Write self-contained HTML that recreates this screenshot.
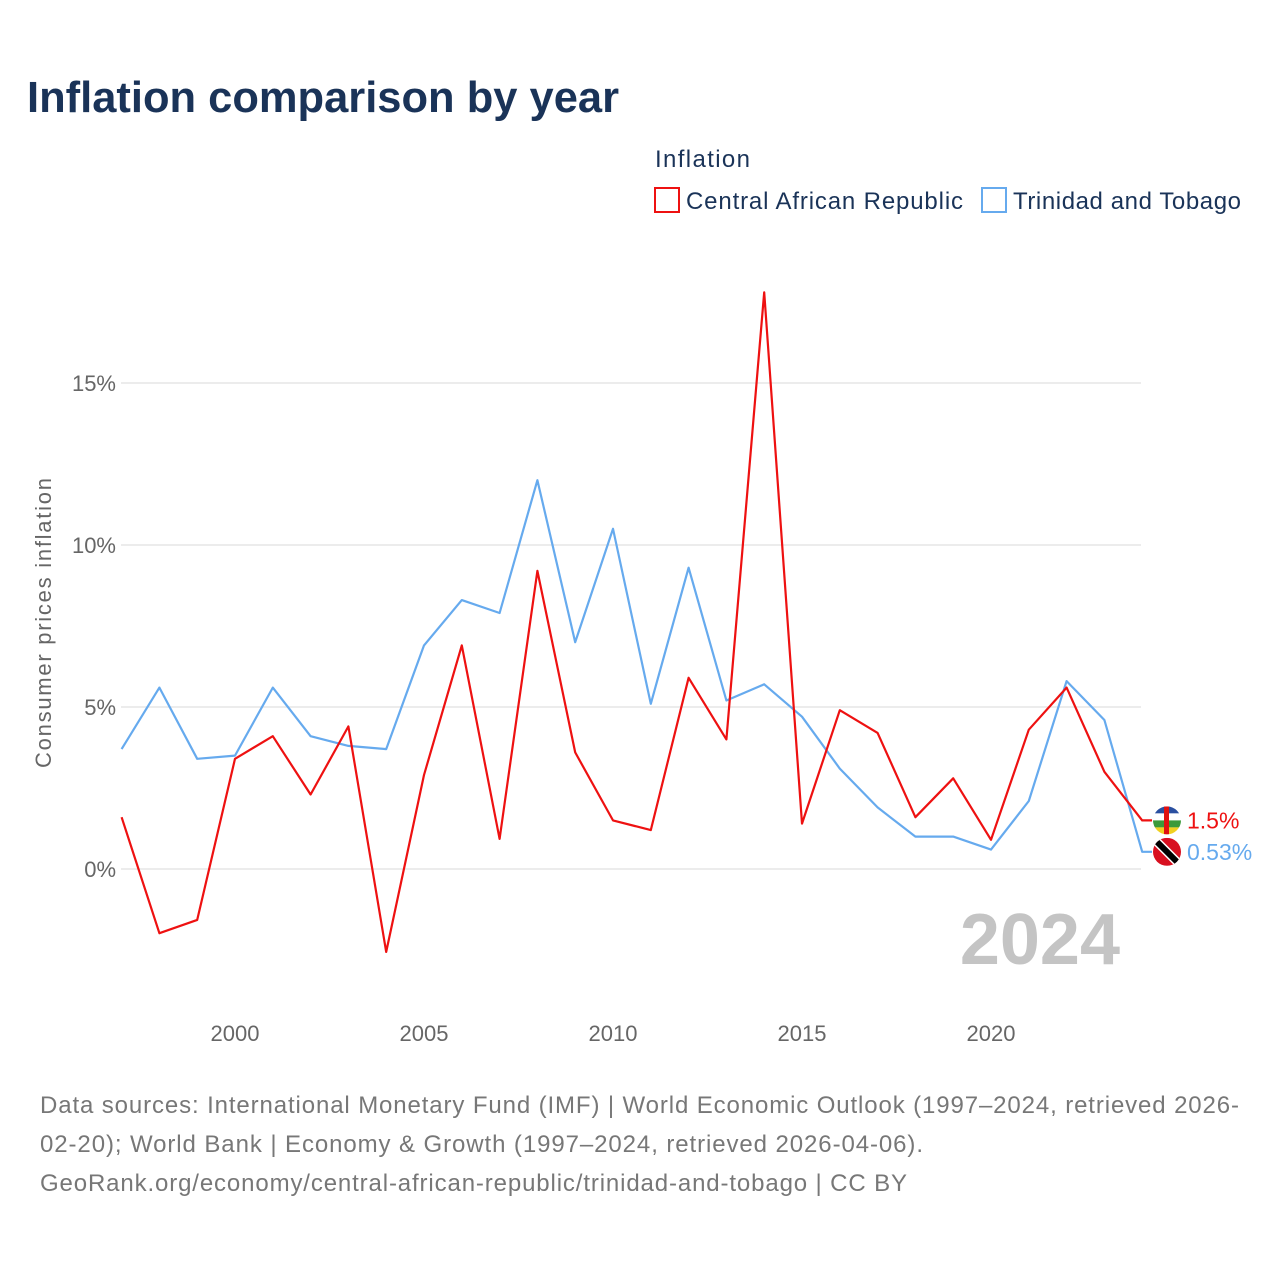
<!DOCTYPE html>
<html><head><meta charset="utf-8"><style>
body{margin:0;background:#fff;font-family:"Liberation Sans",sans-serif}
</style></head><body>
<svg id="c" width="1280" height="1280" viewBox="0 0 1280 1280" style="font-family:'Liberation Sans',sans-serif">
<defs><clipPath id="fc1"><circle cx="1167" cy="819" r="14"/></clipPath></defs>
<text x="27" y="112" font-size="44" font-weight="bold" fill="#1a3358" textLength="592" lengthAdjust="spacingAndGlyphs">Inflation comparison by year</text>
<text x="655" y="167" font-size="24" fill="#1a3358" textLength="95">Inflation</text>
<g><rect x="655" y="188" width="24" height="24" fill="none" stroke="#ee1111" stroke-width="2"/><text x="686" y="209" font-size="24" fill="#1a3358" textLength="277">Central African Republic</text></g>
<g><rect x="982" y="188" width="24" height="24" fill="none" stroke="#66aaee" stroke-width="2"/><text x="1013" y="209" font-size="24" fill="#1a3358" textLength="228">Trinidad and Tobago</text></g>
<text transform="translate(51,623) rotate(-90)" text-anchor="middle" font-size="22" fill="#666" textLength="290">Consumer prices inflation</text>
<g id="grid"></g><g id="series"></g>
<text x="1120" y="964" text-anchor="end" font-size="72" font-weight="bold" fill="#c4c4c4">2024</text>
<text x="40" y="1113" font-size="24" fill="#777" textLength="1199">Data sources: International Monetary Fund (IMF) | World Economic Outlook (1997–2024, retrieved 2026-</text>
<text x="40" y="1152" font-size="24" fill="#777" textLength="883">02-20); World Bank | Economy &amp; Growth (1997–2024, retrieved 2026-04-06).</text>
<text x="40" y="1191" font-size="24" fill="#777" textLength="867">GeoRank.org/economy/central-african-republic/trinidad-and-tobago | CC BY</text>
</svg>
<script>
const years=[1997,1998,1999,2000,2001,2002,2003,2004,2005,2006,2007,2008,2009,2010,2011,2012,2013,2014,2015,2016,2017,2018,2019,2020,2021,2022,2023,2024];
const carValues=[1.6,-1.98,-1.57,3.4,4.1,2.3,4.4,-2.56,2.9,6.9,0.93,9.2,3.6,1.5,1.2,5.9,4.0,17.8,1.4,4.9,4.2,1.6,2.8,0.9,4.3,5.6,3.0,1.5];
const ttValues=[3.7,5.6,3.4,3.5,5.6,4.1,3.8,3.7,6.9,8.3,7.9,12.0,7.0,10.5,5.1,9.3,5.2,5.7,4.7,3.1,1.9,1.0,1.0,0.6,2.1,5.8,4.6,0.53];
const yTicks=[0,5,10,15];
const yTickLabels=["0%","5%","10%","15%"];
const xTicks=[2000,2005,2010,2015,2020];
const NS="http://www.w3.org/2000/svg";
const X=y=>121.6+(y-1997)*37.8;
const Y=v=>869-v*32.4;
const grid=document.getElementById('grid'),ser=document.getElementById('series');
function mk(tag,attrs,parent){const e=document.createElementNS(NS,tag);for(const k in attrs)e.setAttribute(k,attrs[k]);parent.appendChild(e);return e;}
yTicks.forEach((t,i)=>{
  const l=mk('line',{x1:121,x2:1141,y1:Y(t),y2:Y(t),stroke:'#e6e6e6','stroke-width':1.5},grid);
  
  
  const tx=mk('text',{x:116,y:Y(t)+8,'text-anchor':'end','font-size':22,fill:'#666'},grid);
  tx.textContent=yTickLabels[i];
  
  
});
xTicks.forEach(t=>{
  const tx=mk('text',{x:X(t),y:1041,'text-anchor':'middle','font-size':22,fill:'#666'},grid);
  tx.textContent=t;
  
  
});
function line(vals,color,name){
  const d=vals.map((v,i)=>(i?'L':'M')+X(years[i]).toFixed(1)+','+Y(v).toFixed(1)).join('')+'H1152';
  const p=mk('path',{d:d,fill:'none',stroke:color,'stroke-width':2.2,'stroke-linejoin':'round'},ser);
  
  
}
line(ttValues,'#66aaee','tt-line');
line(carValues,'#ee1111','car-line');
let cid=0;
function endLabel(v,color,name,fmt){
  const y=Y(v);
  cid++;
  const cp=mk('clipPath',{id:'flagclip'+cid},ser);
  mk('circle',{cx:1167,cy:y,r:14},cp);
  const g=mk('g',{},ser);
  
  
  const f=mk('g',{'clip-path':'url(#flagclip'+cid+')'},g);
  if(color==='#ee1111'){
    mk('rect',{x:1153,y:y-14,width:28,height:7,fill:'#2a4fa0'},f);
    mk('rect',{x:1153,y:y-7,width:28,height:7,fill:'#fff'},f);
    mk('rect',{x:1153,y:y,width:28,height:7,fill:'#3a9a3a'},f);
    mk('rect',{x:1153,y:y+7,width:28,height:7,fill:'#f0d020'},f);
    mk('rect',{x:1164,y:y-14,width:5,height:28,fill:'#e01010'},f);
  } else {
    mk('rect',{x:1153,y:y-14,width:28,height:28,fill:'#d81020'},f);
    mk('line',{x1:1155,y1:y-12,x2:1179,y2:y+12,stroke:'#fff','stroke-width':9},f);
    mk('line',{x1:1155,y1:y-12,x2:1179,y2:y+12,stroke:'#000','stroke-width':6},f);
  }
  const t=mk('text',{x:1187,y:y+8,'font-size':23,fill:color},g);
  t.textContent=fmt;
}
endLabel(carValues[carValues.length-1],'#ee1111','car-end-label',carValues[carValues.length-1]+'%');
endLabel(ttValues[ttValues.length-1],'#66aaee','tt-end-label',ttValues[ttValues.length-1]+'%');
</script>
</body></html>
